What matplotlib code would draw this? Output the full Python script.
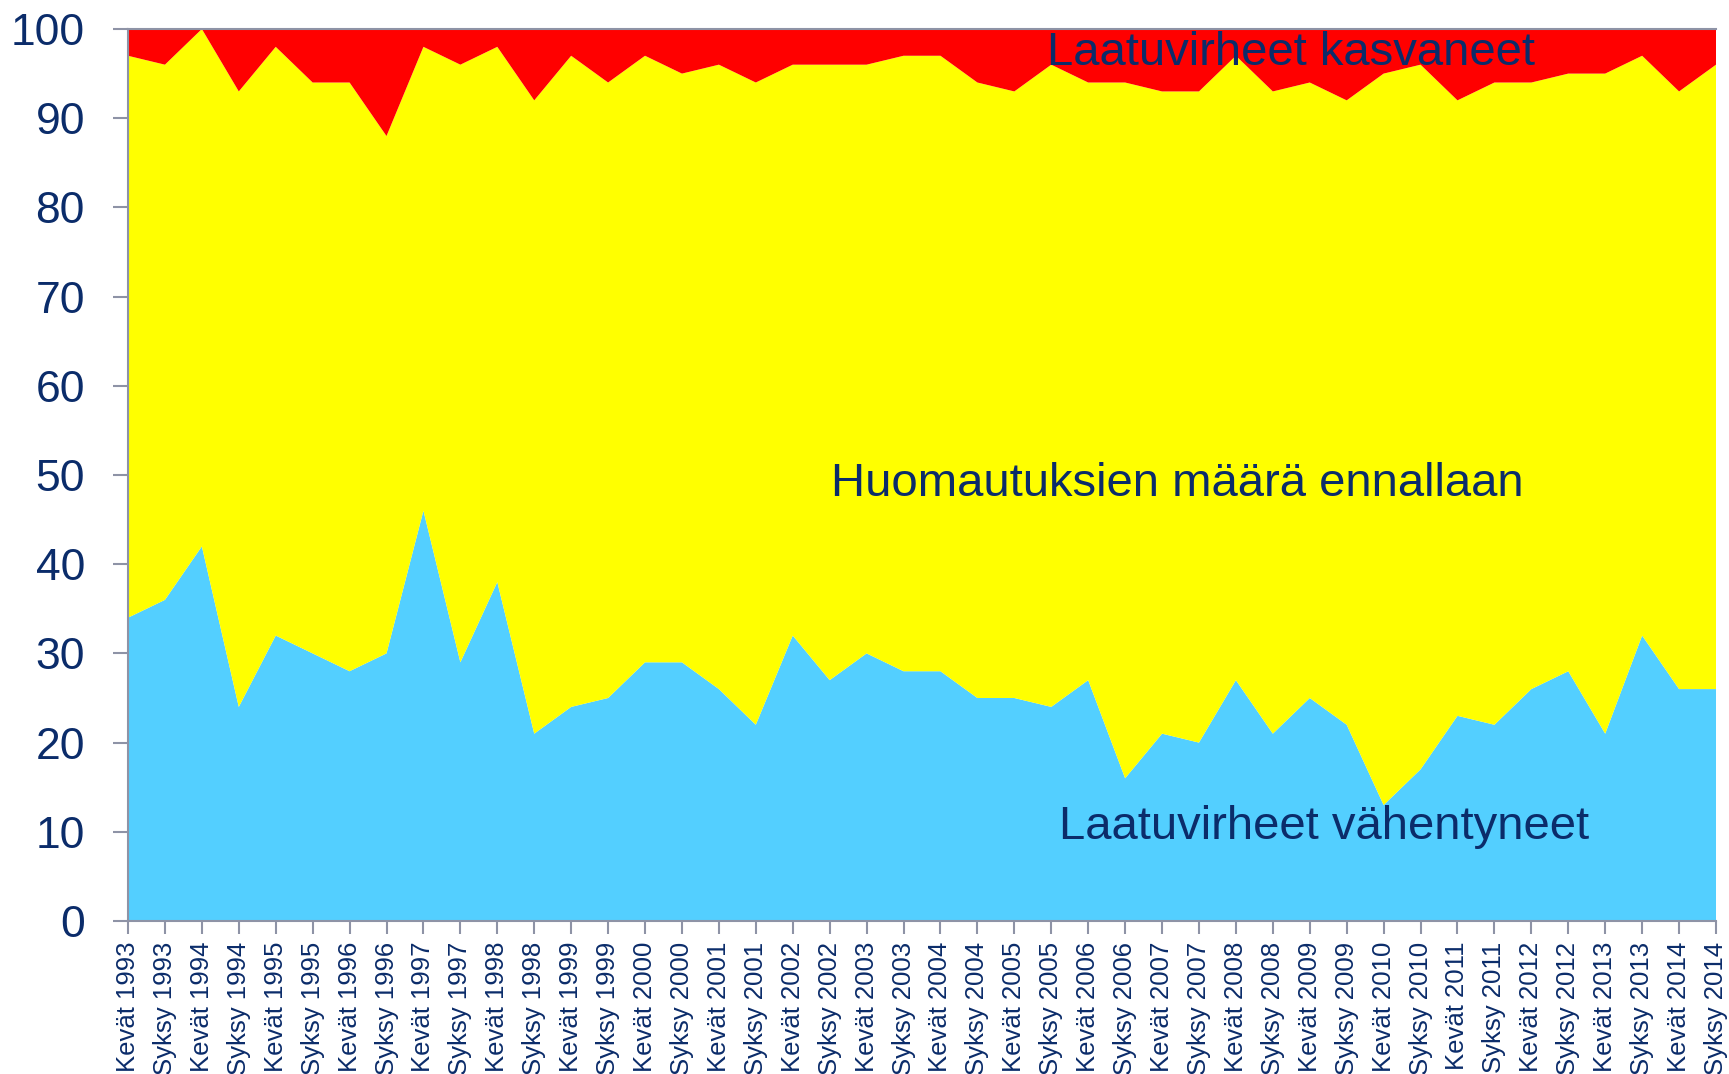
import matplotlib
matplotlib.use("Agg")
import matplotlib.pyplot as plt
import numpy as np

categories = []
for yr in range(1993, 2015):
    categories.append(f"Kevät {yr}")
    categories.append(f"Syksy {yr}")

vahentyneet = [34, 36, 42, 24, 32, 30, 28, 30, 46, 29, 38, 21, 24, 25, 29, 29, 26, 22,
               32, 27, 30, 28, 28, 25, 25, 24, 27, 16, 21, 20, 27, 21, 25, 22, 13, 17,
               23, 22, 26, 28, 21, 32, 26, 26]
# top of the "ennallaan" band (100 - kasvaneet)
yla_raja = [97, 96, 100, 93, 98, 94, 94, 88, 98, 96, 98, 92, 97, 94, 97, 95, 96, 94,
            96, 96, 96, 97, 97, 94, 93, 96, 94, 94, 93, 93, 97, 93, 94, 92, 95, 96,
            92, 94, 94, 95, 95, 97, 93, 96]
ennallaan = [t - b for t, b in zip(yla_raja, vahentyneet)]
kasvaneet = [100 - t for t in yla_raja]

navy = "#0B2C6A"
grey = "#8E93A6"

plt.rcParams['font.family'] = ['Liberation Sans', 'DejaVu Sans']

fig = plt.figure(figsize=(17.29, 10.74), dpi=100)
ax = fig.add_axes([128/1729, 153/1074, (1716-128)/1729, (1045-153)/1074])

x = np.arange(len(categories))
ax.stackplot(x, vahentyneet, ennallaan, kasvaneet,
             colors=["#53CFFF", "#FFFF00", "#FF0000"], linewidth=0)

ax.set_xlim(0, len(categories) - 1)
ax.set_ylim(0, 100)
ax.set_yticks(range(0, 101, 10))
ax.set_xticks(x)
ax.set_xticklabels(categories, rotation=90, fontsize=18.5, color=navy)
ax.tick_params(axis='y', labelsize=32, colors=navy, length=11, width=1.5, color=grey, pad=20)
ax.tick_params(axis='x', length=9, width=1.5, color=grey, pad=6, labelcolor=navy)

for side in ['left', 'bottom', 'top']:
    ax.spines[side].set_color(grey)
    ax.spines[side].set_linewidth(1.5)
ax.spines['right'].set_visible(False)

ax.text(31.5, 97.3, "Laatuvirheet kasvaneet", fontsize=34, color=navy,
        ha='center', va='center')
ax.text(28.4, 49.0, "Huomautuksien määrä ennallaan", fontsize=34, color=navy,
        ha='center', va='center')
ax.text(32.4, 10.5, "Laatuvirheet vähentyneet", fontsize=34, color=navy,
        ha='center', va='center')

fig.savefig("out.png", dpi=100)
